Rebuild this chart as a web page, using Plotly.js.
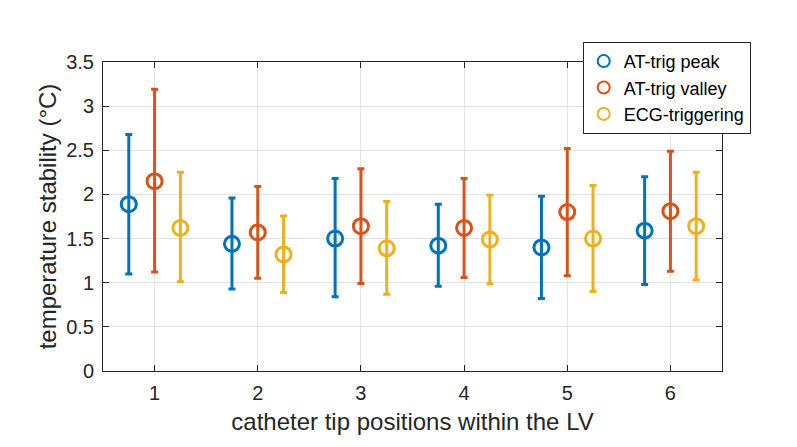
<!DOCTYPE html>
<html><head><meta charset="utf-8">
<script src="https://cdn.plot.ly/plotly-3.0.1.min.js"></script>
<style>body{margin:0;background:#fff}#c{width:797px;height:447px}</style>
</head><body><div id="c"></div>
<script>
const positions = [1, 2, 3, 4, 5, 6];
const seriesNames = ["AT-trig peak", "AT-trig valley", "ECG-triggering"];
const offsets = [-0.25, 0, 0.25];
const colors = ["#0072BD", "#D95319", "#EDB120"];

const peakMean  = [1.89, 1.44, 1.50, 1.42, 1.40, 1.59];
const peakUpper = [2.68, 1.96, 2.18, 1.89, 1.98, 2.20];
const peakLower = [1.10, 0.93, 0.84, 0.96, 0.82, 0.98];

const valleyMean  = [2.15, 1.57, 1.64, 1.62, 1.80, 1.81];
const valleyUpper = [3.19, 2.09, 2.29, 2.18, 2.52, 2.49];
const valleyLower = [1.12, 1.05, 0.99, 1.06, 1.08, 1.13];

const ecgMean  = [1.62, 1.32, 1.39, 1.49, 1.50, 1.64];
const ecgUpper = [2.25, 1.755, 1.92, 1.99, 2.10, 2.25];
const ecgLower = [1.01, 0.89, 0.87, 0.985, 0.90, 1.03];

const means = [peakMean, valleyMean, ecgMean];
const uppers = [peakUpper, valleyUpper, ecgUpper];
const lowers = [peakLower, valleyLower, ecgLower];

const FONT = 'Liberation Sans, Arial, sans-serif';

const traces = seriesNames.map((name, i) => ({
  type: 'scatter', mode: 'markers', name: name,
  x: positions.map(p => p + offsets[i]),
  y: means[i],
  marker: {symbol: 'circle-open', size: 15, color: colors[i], line: {width: 3, color: colors[i]}},
  error_y: {type: 'data', symmetric: false,
    array: uppers[i].map((u, k) => u - means[i][k]),
    arrayminus: means[i].map((m, k) => m - lowers[i][k]),
    color: colors[i], thickness: 3, width: 3.5}
}));

const axisCommon = {
  showline: true, linecolor: '#262626', linewidth: 1, mirror: 'ticks',
  ticks: 'inside', ticklen: 6, tickcolor: '#262626', tickwidth: 1,
  showgrid: true, gridcolor: '#e3e3e3', gridwidth: 1, zeroline: false,
  tickfont: {family: FONT, size: 20, color: '#262626'}
};

const layout = {
  width: 797, height: 447,
  margin: {l: 103, r: 75, t: 62, b: 76},
  paper_bgcolor: '#fff', plot_bgcolor: '#fff',
  showlegend: true,
  legend: {x: 0.775, y: 1.065, xanchor: 'left', yanchor: 'top',
    bgcolor: '#fff', bordercolor: '#262626', borderwidth: 1,
    itemsizing: 'constant',
    font: {family: FONT, size: 18, color: '#000'},
    tracegroupgap: 0},
  xaxis: Object.assign({}, axisCommon, {range: [0.5, 6.5], tickvals: positions,
    ticklabelstandoff: 4,
    title: {text: 'catheter tip positions within the LV', standoff: 10,
      font: {family: FONT, size: 24, color: '#262626'}}}),
  yaxis: Object.assign({}, axisCommon, {range: [0, 3.5], dtick: 0.5, tick0: 0,
    ticklabelstandoff: 4,
    title: {text: 'temperature stability (°C)', standoff: 2,
      font: {family: FONT, size: 24, color: '#262626'}}})
};

Plotly.newPlot('c', traces, layout, {displayModeBar: false, staticPlot: true});
</script></body></html>
